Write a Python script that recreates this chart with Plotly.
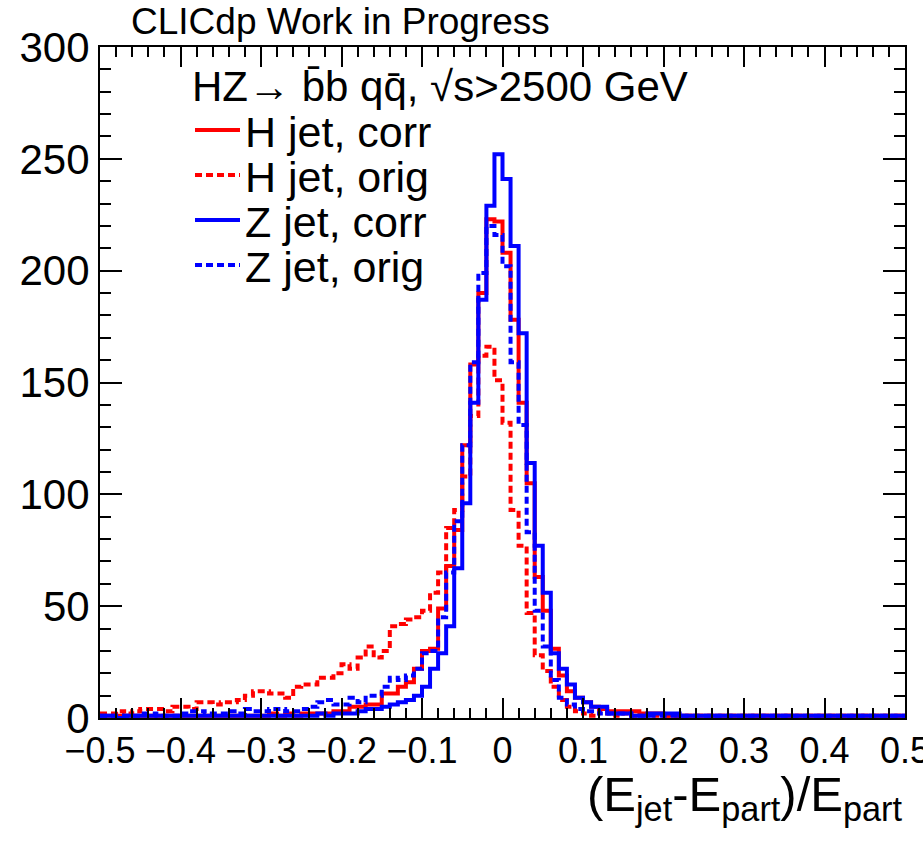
import numpy as np
import plotly.graph_objects as go

# Histogram binning: 100 bins of (E_jet - E_part)/E_part from -0.5 to 0.5
n_bins = 100
x_lo, x_hi = -0.5, 0.5

# Bin contents, left to right
h_corr = [1, 1, 1, 1, 1, 1, 1, 1, 1, 1,
          1, 1, 1, 1, 1, 1, 1, 1, 1, 1,
          1, 2, 1, 2, 1, 2, 2, 2, 2, 3,
          3, 5, 5, 6, 6, 11, 11, 14, 16, 22,
          30, 31, 49, 68, 84, 122, 158, 190, 223, 222,
          208, 178, 141, 105, 63, 48, 31, 19, 12, 9,
          7, 5, 4, 3, 3, 3, 3, 2, 2, 2,
          1, 1, 1, 1, 1, 1, 1, 1, 1, 1,
          1, 1, 1, 1, 1, 1, 1, 1, 1, 1,
          1, 1, 1, 1, 1, 1, 1, 1, 1, 1]

h_orig = [2, 2, 3, 2, 3, 4, 4, 4, 3, 5,
          5, 4, 7, 7, 6, 7, 7, 8, 10, 12,
          12, 11, 11, 9, 14, 15, 15, 18, 18, 20,
          24, 22, 27, 32, 27, 30, 41, 42, 44, 45,
          48, 56, 65, 85, 93, 108, 135, 162, 166, 151,
          132, 93, 77, 47, 28, 21, 14, 8, 5, 3,
          2, 1, 3, 2, 1, 2, 1, 1, 1, 1,
          1, 1, 1, 1, 1, 1, 1, 1, 1, 1,
          1, 1, 1, 1, 1, 1, 1, 1, 1, 1,
          1, 1, 1, 1, 1, 1, 1, 1, 1, 1]

z_corr = [1, 1, 0, 1, 1, 1, 1, 1, 1, 1,
          1, 1, 1, 1, 1, 1, 1, 1, 1, 1,
          1, 1, 1, 1, 1, 1, 1, 2, 1, 2,
          2, 2, 3, 4, 4, 5, 6, 7, 8, 10,
          14, 22, 29, 41, 67, 96, 141, 187, 229, 252,
          241, 211, 172, 114, 77, 56, 29, 22, 15, 9,
          7, 5, 5, 2, 2, 2, 1, 1, 2, 2,
          2, 2, 1, 1, 1, 1, 1, 1, 1, 1,
          1, 1, 1, 1, 1, 1, 1, 1, 1, 1,
          1, 1, 1, 1, 1, 1, 1, 1, 1, 1]

z_orig = [1, 1, 1, 1, 1, 2, 2, 1, 1, 1,
          2, 3, 3, 2, 2, 2, 3, 2, 4, 3,
          3, 4, 4, 3, 3, 4, 5, 7, 8, 6,
          6, 9, 7, 10, 10, 14, 18, 17, 19, 22,
          29, 30, 45, 65, 88, 122, 159, 199, 220, 216,
          202, 159, 131, 83, 48, 32, 17, 9, 6, 4,
          3, 3, 2, 2, 2, 2, 1, 1, 1, 1,
          1, 1, 1, 1, 1, 1, 1, 1, 1, 1,
          1, 1, 1, 1, 1, 1, 1, 1, 1, 1,
          1, 1, 1, 1, 1, 1, 1, 1, 1, 1]

x_ticks = [-0.5, -0.4, -0.3, -0.2, -0.1, 0, 0.1, 0.2, 0.3, 0.4, 0.5]
y_ticks = [0, 50, 100, 150, 200, 250, 300]

legend_header = "HZ\u2192 b\u0304b qq\u0304, \u221as>2500 GeV"

edges = np.linspace(x_lo, x_hi, n_bins + 1)

FONT = "Liberation Sans"
NARROW = "Liberation Sans Narrow, Liberation Sans"
RED, BLUE = "#ff0000", "#0000ff"
DOTS = "7px,4px"

series = [
    ("H jet, corr", h_corr, RED, "solid"),
    ("H jet, orig", h_orig, RED, DOTS),
    ("Z jet, corr", z_corr, BLUE, "solid"),
    ("Z jet, orig", z_orig, BLUE, DOTS),
]

fig = go.Figure()
for name, vals, color, dash in series:
    y = np.append(np.asarray(vals, dtype=float), vals[-1])
    fig.add_trace(go.Scatter(x=edges, y=y, mode="lines", name=name,
                             showlegend=False,
                             line=dict(color=color, width=4, dash=dash,
                                       shape="hv")))

# Frame geometry in pixels, used to place the legend block
L, R, T, B = 100, 905, 47, 718


def px(xp):
    return (xp - L) / (R - L)


def py(yp):
    return (B - yp) / (B - T)


shapes = []
annotations = [
    dict(text="CLICdp Work in Progress", xref="paper", yref="paper",
         x=px(129), y=py(22), xanchor="left", yanchor="middle",
         showarrow=False, font=dict(family=FONT, size=37, color="black")),
    dict(text="(E<sub>jet</sub>-E<sub>part</sub>)/E<sub>part</sub>",
         xref="paper", yref="paper", x=1.0, y=py(765),
         xanchor="right", yanchor="top", showarrow=False,
         font=dict(family=NARROW, size=49, color="black")),
    dict(text=legend_header, xref="paper", yref="paper",
         x=px(190), y=py(87), xanchor="left", yanchor="middle",
         showarrow=False, font=dict(family=FONT, size=42, color="black")),
]

row_y = [130, 175, 220, 265]
for (name, vals, color, dash), yrow in zip(series, row_y):
    shapes.append(dict(type="line", xref="paper", yref="paper",
                       x0=px(195), x1=px(240), y0=py(yrow), y1=py(yrow),
                       line=dict(color=color, width=4, dash=dash)))
    annotations.append(dict(text=name, xref="paper", yref="paper",
                            x=px(243), y=py(yrow + 2), xanchor="left",
                            yanchor="middle", showarrow=False,
                            font=dict(family=FONT, size=43, color="black")))

fig.update_layout(
    width=923, height=841,
    margin=dict(l=L, r=923 - R, t=T, b=841 - B, autoexpand=False),
    paper_bgcolor="white", plot_bgcolor="white",
    font=dict(family=FONT, color="black"),
    showlegend=False,
    xaxis=dict(
        range=[x_lo, x_hi], showgrid=False, zeroline=False, automargin=False,
        showline=True, linecolor="black", linewidth=2, mirror="ticks",
        ticks="inside", ticklen=20, tickwidth=2, tickcolor="black",
        tickvals=x_ticks, ticklabeloverflow="allow",
        tickfont=dict(family=NARROW, size=36, color="black"),
        minor=dict(ticks="inside", ticklen=10, tickwidth=2,
                   tickcolor="black", dtick=0.02, showgrid=False),
    ),
    yaxis=dict(
        range=[0, 300], showgrid=False, zeroline=False, automargin=False,
        showline=True, linecolor="black", linewidth=2, mirror="ticks",
        ticks="inside", ticklen=22, tickwidth=2, tickcolor="black",
        tickvals=y_ticks,
        tickfont=dict(family=FONT, size=42, color="black"),
        minor=dict(ticks="inside", ticklen=11, tickwidth=2,
                   tickcolor="black", dtick=10, showgrid=False),
    ),
    shapes=shapes,
    annotations=annotations,
)

fig.write_html("out.html")
